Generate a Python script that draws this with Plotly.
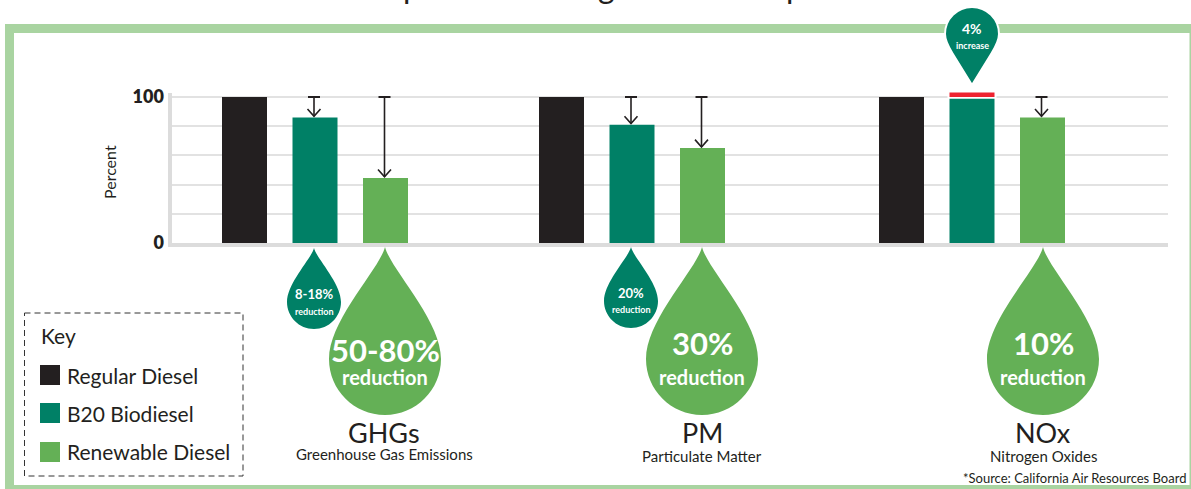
import plotly.graph_objects as go

# ---- data ----
categories = ["GHGs", "PM", "NOx"]
regular_diesel = [100, 100, 100]
b20_biodiesel = [86, 81, 99]
renewable_diesel = [44.5, 65, 86]
nox_b20_increase = 4
y_tick_values = [0, 20, 40, 60, 80, 100]
y_tick_labels = ["0", "", "", "", "", "100"]
series_names = ["Regular Diesel", "B20 Biodiesel", "Renewable Diesel"]

# ---- layout constants ----
W, H = 1191, 489
BLACK, TEAL, GREEN = "#231f20", "#008066", "#64b056"
FRAME = "#a9d4a1"
GRID = "#e2e2e2"
AXIS = "#dcdcdc"
RED = "#ee2330"
FONT = "Lato"
centers = {"GHGs": 315, "PM": 632, "NOx": 972}
offset = 70.5
bar_w = 45
px0, px100 = 243, 97
y_top = 103
py_top = px0 - (px0 - px100) * y_top / 100
xlo, xhi = 171.5, 1168


def xs(d):
    return [centers[c] + d for c in categories]


fig = go.Figure()

for name, vals, d, col in [
    (series_names[0], regular_diesel, -offset, BLACK),
    (series_names[1], b20_biodiesel, 0, TEAL),
    (series_names[2], renewable_diesel, offset, GREEN),
]:
    fig.add_bar(x=xs(d), y=vals, width=bar_w, name=name, marker=dict(color=col, line_width=0),
                showlegend=False, cliponaxis=False)

# white gap + red increase on the NOx B20 bar
fig.add_bar(x=[centers["NOx"]], y=[100 + nox_b20_increase + 1 - b20_biodiesel[2]], base=[b20_biodiesel[2]],
            width=bar_w + 4, marker=dict(color="white", line_width=0), showlegend=False, cliponaxis=False)
fig.add_bar(x=[centers["NOx"]], y=[nox_b20_increase], base=[100], width=bar_w,
            marker=dict(color=RED, line_width=0), showlegend=False, cliponaxis=False)


def arrow(c, v):
    tip = v + 0.8
    fig.add_scatter(x=[c, c], y=[100, tip], mode="lines", line=dict(color=BLACK, width=1.6),
                    showlegend=False, hoverinfo="skip")
    fig.add_scatter(x=[c - 6, c + 6], y=[100, 100], mode="lines", line=dict(color=BLACK, width=2.2),
                    showlegend=False, hoverinfo="skip", cliponaxis=False)
    fig.add_scatter(x=[c - 6.5, c, c + 6.5], y=[tip + 5, tip, tip + 5], mode="lines",
                    line=dict(color=BLACK, width=1.6), showlegend=False, hoverinfo="skip")


arrow(centers["GHGs"] - 1, b20_biodiesel[0])
arrow(centers["PM"] - 1, b20_biodiesel[1])
for cat, v in zip(categories, renewable_diesel):
    arrow(centers[cat] + offset - 1, v)

# full-page helper axes for the decoration (pixel space)
fig.add_scatter(x=[0], y=[0], xaxis="x2", yaxis="y2", mode="markers", marker=dict(opacity=0),
                showlegend=False, hoverinfo="skip")


def drop(cx, tip, r, cy):
    k = 0.5523 * r
    h = cy - tip
    return (f"M {cx} {tip} C {cx + 0.10 * r} {tip + 0.20 * h}, {cx + r} {cy - 0.35 * h}, {cx + r} {cy} "
            f"C {cx + r} {cy + k}, {cx + k} {cy + r}, {cx} {cy + r} "
            f"C {cx - k} {cy + r}, {cx - r} {cy + k}, {cx - r} {cy} "
            f"C {cx - r} {cy - 0.35 * h}, {cx - 0.10 * r} {tip + 0.20 * h}, {cx} {tip} Z")


def pin(cx, tip, r, cy):
    k = 0.5523 * r
    return (f"M {cx} {tip} L {cx + 0.72 * r} {cy + 0.72 * r} "
            f"C {cx + 0.92 * r} {cy + 0.4 * r}, {cx + r} {cy + 0.2 * r}, {cx + r} {cy} "
            f"C {cx + r} {cy - k}, {cx + k} {cy - r}, {cx} {cy - r} "
            f"C {cx - k} {cy - r}, {cx - r} {cy - k}, {cx - r} {cy} "
            f"C {cx - r} {cy + 0.2 * r}, {cx - 0.92 * r} {cy + 0.4 * r}, {cx - 0.72 * r} {cy + 0.72 * r} Z")


def rect(x0, y0, x1, y1, color):
    return dict(type="rect", xref="x2", yref="y2", x0=x0, y0=y0, x1=x1, y1=y1,
                fillcolor=color, line_width=0, layer="above")


shapes = [
    rect(5, 24, 1191, 33, FRAME),
    rect(5, 24, 14, 489, FRAME),
    rect(5, 485, 1191, 489, FRAME),
    rect(1189.5, 24, 1191, 489, FRAME),
    dict(type="rect", xref="x2", yref="y2", x0=24.5, y0=313, x1=243, y1=476,
         line=dict(color="#333333", width=1, dash="6px,4px"), fillcolor="rgba(0,0,0,0)", layer="above"),
    rect(40, 365, 60, 385, BLACK),
    rect(40, 403, 60, 423, TEAL),
    rect(40, 442, 60, 462, GREEN),
]
for path, col, lw in [
    (drop(314, 248, 27, 302), TEAL, 0),
    (drop(631, 247, 27, 301), TEAL, 0),
    (drop(385, 247, 56, 359), GREEN, 0),
    (drop(702, 247, 56, 359), GREEN, 0),
    (drop(1043, 247, 56, 359), GREEN, 0),
    (pin(972, 85, 27, 34), TEAL, 2),
]:
    shapes.append(dict(type="path", path=path, xref="x2", yref="y2", fillcolor=col,
                       line=dict(color="white", width=lw), layer="above"))


def txt(x, y, s, size, color=BLACK, bold=False, xanchor="center", angle=0, yanchor="middle"):
    return dict(x=x, y=y, xref="x2", yref="y2", text=s, showarrow=False, xanchor=xanchor, yanchor=yanchor,
                textangle=angle, font=dict(family=FONT, size=size, color=color, weight=700 if bold else 400))


W_ = "white"
annotations = [
    txt(109.5, 172.5, "Percent", 16, angle=-90),
    txt(39, 335, "Key", 21, xanchor="left"),
    txt(65, 375, series_names[0], 21, xanchor="left"),
    txt(65, 413, series_names[1], 21, xanchor="left"),
    txt(65, 451, series_names[2], 21, xanchor="left"),
    txt(314, 294, "8-18%", 13, W_, True),
    txt(314, 311, "reduction", 9, W_, True),
    txt(631, 293, "20%", 13, W_, True),
    txt(631, 309, "reduction", 9, W_, True),
    txt(385, 350, "50-80%", 31, W_, True),
    txt(385, 377, "reduction", 20, W_, True),
    txt(702, 343, "30%", 31, W_, True),
    txt(702, 377, "reduction", 20, W_, True),
    txt(1043, 343, "10%", 31, W_, True),
    txt(1043, 377, "reduction", 20, W_, True),
    txt(972, 28, "4%", 14, W_, True),
    txt(972, 45, "increase", 9, W_, True),
    txt(384, 432, categories[0], 27),
    txt(384, 454, "Greenhouse Gas Emissions", 15),
    txt(702, 432, categories[1], 27),
    txt(702, 456, "Particulate Matter", 15),
    txt(1043, 432, categories[2], 27),
    txt(1043, 456, "Nitrogen Oxides", 15),
    txt(1188, 478, "*Source: California Air Resources Board", 13, xanchor="right"),
    # title descenders clipped at the top edge of the picture
    txt(412, 7, "p", 32, yanchor="bottom"),
    txt(606, 7, "g", 32, yanchor="bottom"),
    txt(795, 7, "p", 32, yanchor="bottom"),
]

fig.update_layout(
    width=W, height=H, autosize=False,
    margin=dict(l=0, r=0, t=0, b=0, pad=0, autoexpand=False),
    paper_bgcolor="white", plot_bgcolor="rgba(0,0,0,0)",
    barmode="overlay", showlegend=False,
    xaxis=dict(domain=[xlo / W, xhi / W], range=[xlo, xhi], showticklabels=False, ticks="",
               showgrid=False, zeroline=False, showline=True, linecolor=AXIS, linewidth=4),
    yaxis=dict(domain=[(H - px0) / H, (H - py_top) / H], range=[0, y_top], tickvals=y_tick_values,
               ticktext=y_tick_labels, ticks="", gridcolor=GRID, gridwidth=1.5, zeroline=False,
               showline=True, linecolor=AXIS, linewidth=4,
               tickfont=dict(family=FONT, size=18, color=BLACK, weight=800)),
    xaxis2=dict(domain=[0, 1], range=[0, W], visible=False, anchor="y2"),
    yaxis2=dict(domain=[0, 1], range=[H, 0], visible=False, anchor="x2"),
    shapes=shapes,
    annotations=annotations,
)
fig.write_html(
    "out.html",
    config={"displayModeBar": False},
    post_script="document.body.style.margin='0';var d=document.getElementById('{plot_id}');"
                "d.style.position='absolute';d.style.left='0';d.style.top='0';",
)
